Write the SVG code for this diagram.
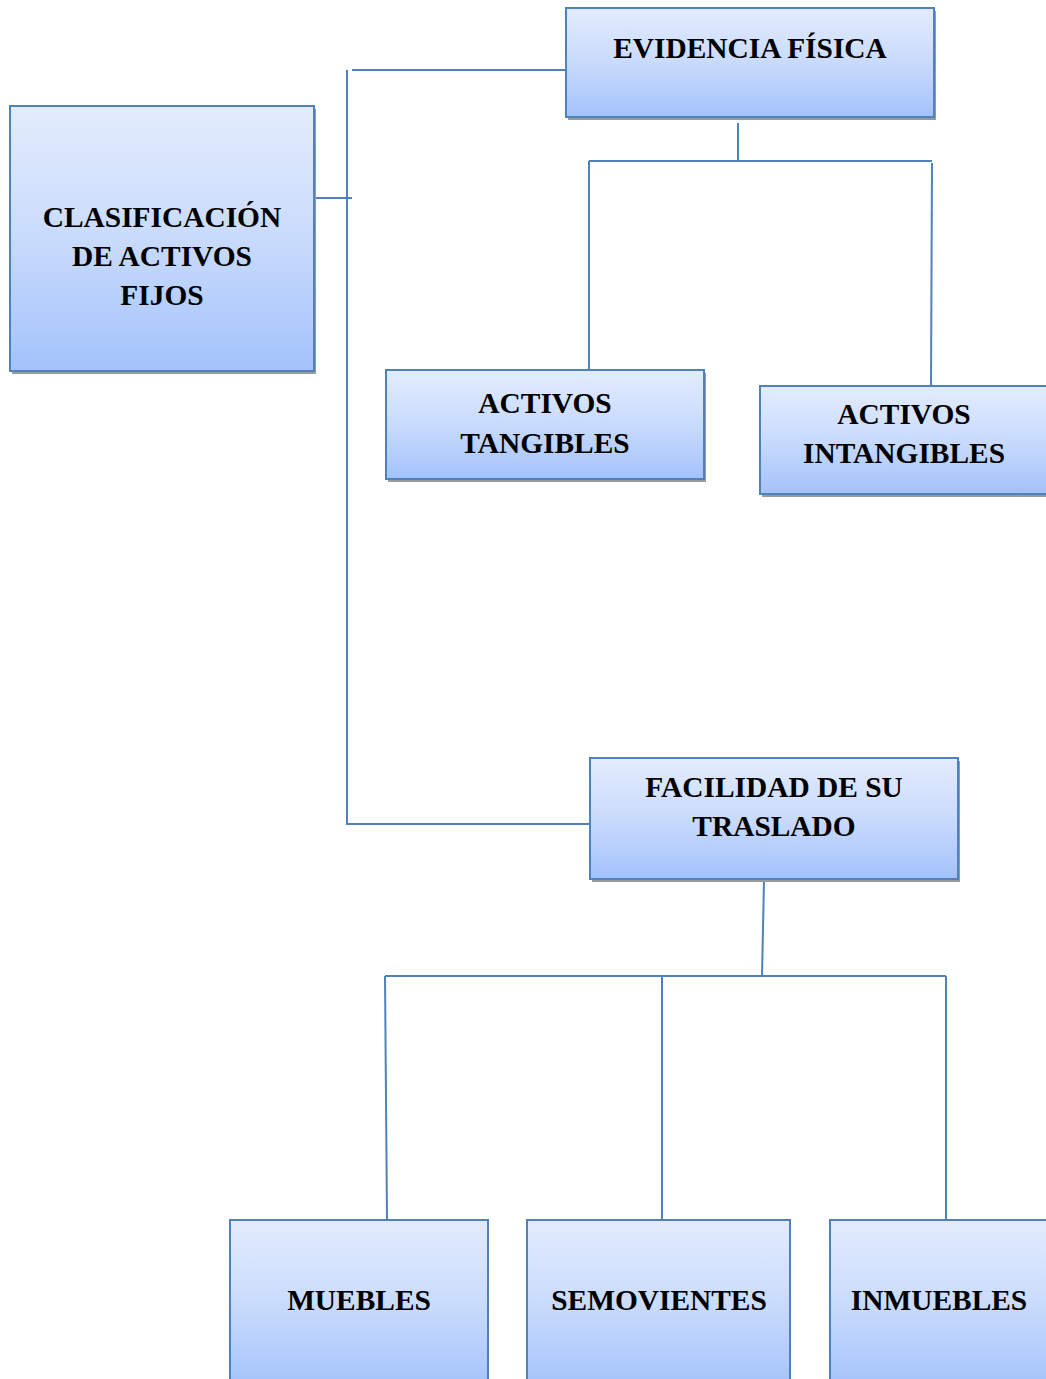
<svg xmlns="http://www.w3.org/2000/svg" width="1046" height="1379" viewBox="0 0 1046 1379">
  <style>
    .box { fill: url(#boxFill); stroke: #4f81bd; stroke-width: 2; }
    .shadow { fill: #9a9a9a; }
    .lbl { font-family: "Liberation Serif", "Times New Roman", serif; font-weight: bold; font-size: 29.4px; fill: #000; text-anchor: middle; }
    .conn { stroke: #4f81bd; stroke-width: 2; fill: none; }
  </style>
  <defs>
    <linearGradient id="boxFill" x1="0" y1="0" x2="0" y2="1">
      <stop offset="0" stop-color="#e3ecfd"/>
      <stop offset="0.5" stop-color="#c9dbfc"/>
      <stop offset="1" stop-color="#a3c2fb"/>
    </linearGradient>
  </defs>
  <rect width="1046" height="1379" fill="#ffffff"/>

  <g id="connectors">
    <polyline class="conn" points="566,70 352,70"/>
    <line class="conn" x1="347" y1="70" x2="347" y2="825"/>
    <line class="conn" x1="314" y1="198" x2="352" y2="198"/>
    <line class="conn" x1="347" y1="824" x2="590" y2="824"/>
    <line class="conn" x1="738" y1="123" x2="738" y2="161"/>
    <line class="conn" x1="589" y1="161" x2="932" y2="161"/>
    <line class="conn" x1="589" y1="161" x2="589" y2="370"/>
    <line class="conn" x1="932" y1="163" x2="931" y2="386"/>
    <line class="conn" x1="764" y1="880" x2="762" y2="976"/>
    <line class="conn" x1="385" y1="976" x2="946" y2="976"/>
    <line class="conn" x1="385" y1="976" x2="387" y2="1220"/>
    <line class="conn" x1="662" y1="976" x2="662" y2="1220"/>
    <line class="conn" x1="946" y1="976" x2="946" y2="1220"/>
  </g>

  <g id="clasificacion">
    <rect class="shadow" x="12" y="109" width="304" height="265"/>
    <rect class="box" x="10" y="106" width="304" height="265"/>
    <text class="lbl" x="162" y="227">CLASIFICACIÓN</text>
    <text class="lbl" x="162" y="266">DE ACTIVOS</text>
    <text class="lbl" x="162" y="305">FIJOS</text>
  </g>

  <g id="evidencia-fisica">
    <rect class="shadow" x="568" y="11" width="368" height="109"/>
    <rect class="box" x="566" y="8" width="368" height="109"/>
    <text class="lbl" x="750" y="58">EVIDENCIA FÍSICA</text>
  </g>

  <g id="activos-tangibles">
    <rect class="shadow" x="388" y="373" width="318" height="109"/>
    <rect class="box" x="386" y="370" width="318" height="109"/>
    <text class="lbl" x="545" y="413">ACTIVOS</text>
    <text class="lbl" x="545" y="453">TANGIBLES</text>
  </g>

  <g id="activos-intangibles">
    <rect class="shadow" x="762" y="389" width="290" height="108"/>
    <rect class="box" x="760" y="386" width="290" height="108"/>
    <text class="lbl" x="904" y="424">ACTIVOS</text>
    <text class="lbl" x="904" y="463">INTANGIBLES</text>
  </g>

  <g id="facilidad-traslado">
    <rect class="shadow" x="592" y="761" width="368" height="121"/>
    <rect class="box" x="590" y="758" width="368" height="121"/>
    <text class="lbl" x="774" y="797">FACILIDAD DE SU</text>
    <text class="lbl" x="774" y="836">TRASLADO</text>
  </g>

  <g id="muebles">
    <rect class="box" x="230" y="1220" width="258" height="170"/>
    <text class="lbl" x="359" y="1310">MUEBLES</text>
  </g>

  <g id="semovientes">
    <rect class="box" x="527" y="1220" width="263" height="170"/>
    <text class="lbl" x="659" y="1310">SEMOVIENTES</text>
  </g>

  <g id="inmuebles">
    <rect class="box" x="830" y="1220" width="230" height="170"/>
    <text class="lbl" x="939" y="1310">INMUEBLES</text>
  </g>
</svg>
